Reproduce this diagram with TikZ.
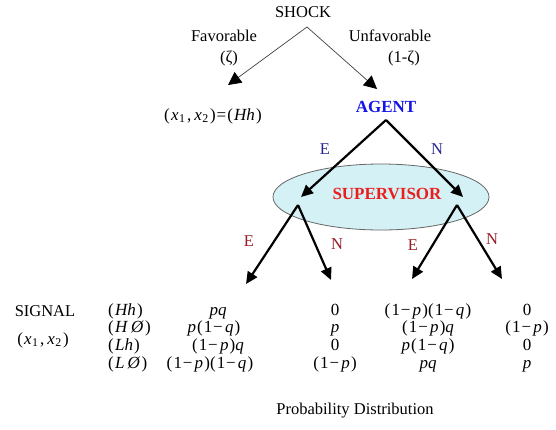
\documentclass[tikz,border=0pt]{standalone}
\usepackage{fontspec}
\setmainfont{Liberation Serif}
\usetikzlibrary{arrows.meta}
\definecolor{agentblue}{RGB}{20,20,230}
\definecolor{supred}{RGB}{235,30,30}
\definecolor{navy}{RGB}{40,40,140}
\definecolor{dred}{RGB}{150,30,40}
\definecolor{ellfill}{RGB}{212,242,246}
\newcommand{\mi}[1]{\textit{#1}}
\newcommand{\lp}{(\kern1.2pt}
\newcommand{\rp}{\kern1.2pt)}
\newcommand{\mminus}{\kern0.8pt−\kern2.2pt}
\newcommand{\onep}{\lp1\mminus\mi{p}\rp}
\newcommand{\oneq}{\lp1\mminus\mi{q}\rp}
\newcommand{\xx}{\lp\mi{x}\kern0.5pt\textsubscript{1}\kern1.5pt,\kern3pt\mi{x}\kern0.5pt\textsubscript{2}\rp}
\begin{document}
\begin{tikzpicture}[x=1pt,y=-1pt,
  txt/.style={inner sep=0pt,font=\fontsize{16.5}{18}\selectfont},
  thin arrow/.style={draw=black!75,line width=0.7pt,-{Triangle[length=13pt,width=13pt,color=black,fill=black]}},
  thick arrow/.style={draw=black,line width=2.2pt,-{Triangle[length=12pt,width=11pt]}},
  cell/.style={inner sep=0pt,font=\fontsize{17}{18}\selectfont,text height=11pt,text depth=3pt}]
\useasboundingbox (0,0) rectangle (556,429);
% top
\node[txt] (shock) at (303,12) {SHOCK};
\coordinate (sapex) at (307,27);
\coordinate (fav) at (228,85);
\coordinate (unf) at (377,89);
\draw[thin arrow] (sapex) -- (fav);
\draw[thin arrow] (sapex) -- (unf);
\node[txt] (favl) at (224,36) {Favorable};
\node[txt] (zeta) at (229,58) {(ζ)};
\node[txt] (unfl) at (390,36) {Unfavorable};
\node[txt] (zeta2) at (404,58) {(1-ζ)};
\node[cell] (hh) at (213,116) {\xx\kern1pt=\kern1pt\lp\mi{Hh}\rp};
\node[txt,font=\fontsize{17}{18}\selectfont\bfseries,text=agentblue] (agent) at (386,107) {AGENT};
% ellipse
\draw[draw=black!60,fill=ellfill,line width=0.8pt] (381,197) ellipse [x radius=108,y radius=33];
\node[txt,font=\fontsize{17}{18}\selectfont\bfseries,text=supred] (sup) at (387,194) {SUPERVISOR};
\coordinate (aapex) at (386,120);
\coordinate (sl) at (301,197);
\coordinate (sr) at (463,197);
\draw[thick arrow] (aapex) -- (sl);
\draw[thick arrow] (aapex) -- (sr);
\node[txt,text=navy] (e1) at (325,149) {E};
\node[txt,text=navy] (n1) at (437,149) {N};
% second level
\coordinate (l0) at (298,205);
\coordinate (r0) at (457,205);
\coordinate (ll) at (246,284);
\coordinate (lr) at (331,280);
\coordinate (rl) at (412,279);
\coordinate (rr) at (502,279);
\draw[thick arrow] (l0) -- (ll);
\draw[thick arrow] (l0) -- (lr);
\draw[thick arrow] (r0) -- (rl);
\draw[thick arrow] (r0) -- (rr);
\node[txt,text=dred] (e2) at (249,241) {E};
\node[txt,text=dred] (n2) at (337,244) {N};
\node[txt,text=dred] (e3) at (413,245) {E};
\node[txt,text=dred] (n3) at (492,239) {N};
% table
\node[txt] (signal) at (45,311) {SIGNAL};
\node[cell] (xx) at (43,340) {\xx};
\node[cell,anchor=west] (r1) at (108,311) {\lp\mi{Hh}\rp};
\node[cell,anchor=west] (r2) at (108,328) {\lp\mi{H}\kern3pt\mi{Ø}\rp};
\node[cell,anchor=west] (r3) at (108,346) {\lp\mi{Lh}\rp};
\node[cell,anchor=west] (r4) at (108,364) {\lp\mi{L}\kern3pt\mi{Ø}\rp};
\node[cell] (c11) at (218,311) {\mi{pq}};
\node[cell] (c12) at (214,328) {\mi{p}\kern1pt\oneq};
\node[cell] (c13) at (218,346) {\onep\mi{q}};
\node[cell] (c14) at (210,364) {\onep\oneq};
\node[cell] (c21) at (335,311) {0};
\node[cell] (c22) at (335,328) {\mi{p}};
\node[cell] (c23) at (335,346) {0};
\node[cell] (c24) at (335,364) {\onep};
\node[cell] (c31) at (428,311) {\onep\oneq};
\node[cell] (c32) at (428,328) {\onep\mi{q}};
\node[cell] (c33) at (428,346) {\mi{p}\kern1pt\oneq};
\node[cell] (c34) at (428,364) {\mi{pq}};
\node[cell] (c41) at (527,311) {0};
\node[cell] (c42) at (527,328) {\onep};
\node[cell] (c43) at (527,346) {0};
\node[cell] (c44) at (527,364) {\mi{p}};
\node[txt] (pd) at (355,411) {Probability Distribution};
\end{tikzpicture}
\end{document}
